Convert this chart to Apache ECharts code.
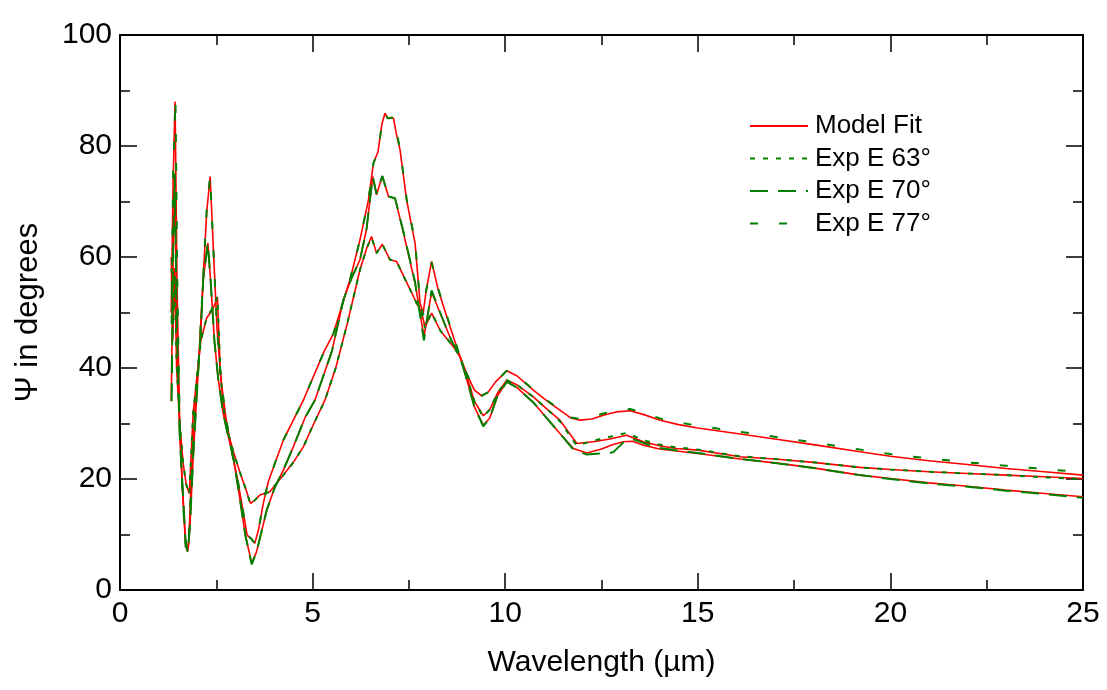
<!DOCTYPE html>
<html>
<head>
<meta charset="utf-8">
<title>Psi vs wavelength</title>
<script src="https://cdn.jsdelivr.net/npm/echarts@6/dist/echarts.min.js"></script>
<style>
  html, body { margin: 0; padding: 0; background: #fff; }
  #chart { width: 1107px; height: 690px; }
</style>
</head>
<body>
<div id="chart"></div>
<script>
// [wavelength (um), psi (deg)]
const fit77 = [[1.33,50],[1.38,74],[1.43,88],[1.48,55],[1.55,30],[1.62,18],[1.70,8.5],[1.74,7],[1.78,8],[1.85,20],[1.95,33],[2.05,42],[2.15,55],[2.25,68],[2.34,74.5],[2.42,62],[2.52,47],[2.62,38],[2.75,31],[2.90,25],[3.05,20],[3.20,14],[3.30,9.9],[3.40,9.3],[3.50,8.4],[3.60,11],[3.72,15.6],[3.85,19.5],[4.02,22.8],[4.24,27],[4.50,30.6],[4.76,34.2],[4.98,37.8],[5.30,43],[5.54,46.2],[5.75,51],[5.97,55.9],[6.23,63.1],[6.45,70.3],[6.58,76.9],[6.63,77.2],[6.70,79],[6.80,84],[6.88,85.9],[6.95,85],[7.01,85],[7.10,85],[7.18,82],[7.27,79.3],[7.44,70.3],[7.66,62.5],[7.79,51.7],[7.87,49.9],[7.95,54],[8.09,59.2],[8.26,54.1],[8.57,47.4],[8.83,42],[9.00,39],[9.20,36],[9.39,35],[9.55,35.6],[9.75,37.5],[10.04,39.5],[10.30,38.6],[10.73,36],[11.10,34],[11.42,32.4],[11.70,31],[11.94,30.6],[12.25,30.8],[12.55,31.5],[12.90,32.1],[13.24,32.3],[13.60,31.6],[14.02,30.6],[14.50,29.8],[15.00,29.2],[16.10,28.1],[17.00,27.2],[18.00,26.2],[19.21,24.9],[20.00,24.1],[21.00,23.3],[22.00,22.6],[23.00,21.9],[24.00,21.3],[25.00,20.7]];
const fit70 = [[1.33,34],[1.38,60],[1.42,75],[1.47,50],[1.55,28],[1.62,19],[1.70,9],[1.76,7],[1.82,12],[1.90,24],[2.00,36],[2.10,47],[2.16,55.9],[2.28,62.5],[2.36,55],[2.45,45],[2.55,38],[2.68,31.8],[2.80,28],[2.94,24],[3.10,17],[3.25,10],[3.42,4.8],[3.55,7],[3.81,14.4],[4.02,18.5],[4.24,21.6],[4.50,25.8],[4.80,31],[5.06,34.2],[5.24,37.8],[5.50,43],[5.80,52.3],[6.00,56],[6.23,59.5],[6.40,65],[6.56,74.5],[6.66,71.2],[6.81,74.6],[6.97,70.9],[7.14,70.6],[7.36,64.3],[7.66,55.3],[7.79,49.9],[7.89,45.6],[8.09,53.7],[8.31,49.9],[8.60,45],[8.83,42],[9.00,38],[9.20,33],[9.43,29.7],[9.60,31],[9.80,35],[10.04,37.5],[10.30,36.5],[10.73,33.8],[11.10,30.8],[11.42,28.2],[11.77,25.5],[12.12,24.7],[12.50,25.4],[12.80,26.2],[13.07,26.7],[13.30,26.8],[13.59,26.1],[14.00,25.4],[14.50,25.0],[15.00,24.6],[16.10,23.6],[17.00,22.9],[18.00,22.0],[19.21,20.7],[20.00,20.1],[21.00,19.3],[22.00,18.7],[23.00,18.0],[24.00,17.4],[25.00,16.8]];
const fit63 = [[1.33,60],[1.37,45],[1.42,58],[1.47,40],[1.55,30],[1.64,22.8],[1.72,19],[1.80,17.4],[1.90,31.9],[1.99,37.9],[2.10,45],[2.25,49],[2.40,50.5],[2.53,52.6],[2.60,40],[2.68,33],[2.80,28.5],[2.94,25],[3.10,21.5],[3.25,18.5],[3.39,15.6],[3.50,16.2],[3.63,17.1],[3.89,17.7],[4.24,20.7],[4.50,23],[4.76,25.8],[5.00,29.5],[5.32,34.2],[5.60,40],[5.90,48],[6.23,57.7],[6.40,61.5],[6.53,63.7],[6.66,60.7],[6.81,62.3],[7.01,59.5],[7.18,59.2],[7.40,56],[7.66,52.3],[7.83,49.9],[7.92,47.4],[8.09,49.9],[8.31,46.8],[8.66,43.8],[8.83,42],[9.00,38.5],[9.20,34],[9.43,31.4],[9.60,32.5],[9.80,35.5],[10.04,37.8],[10.30,37],[10.73,34.8],[11.10,32.5],[11.42,30.6],[11.86,26.4],[12.29,26.7],[12.72,27.2],[13.15,27.9],[13.59,26.7],[14.00,26.0],[14.45,25.5],[15.00,25.2],[16.10,24.0],[17.00,23.6],[18.00,23.0],[19.21,22.1],[20.00,21.7],[21.00,21.3],[22.00,21.0],[23.00,20.7],[24.00,20.4],[25.00,20.1]];

const exp77 = [[1.34,48],[1.38,75],[1.44,88.6],[1.49,54],[1.55,30],[1.62,18],[1.70,8],[1.74,6.8],[1.78,8],[1.85,20],[1.95,33],[2.05,42],[2.15,55],[2.25,68.5],[2.34,74.6],[2.42,62],[2.52,47],[2.62,38],[2.75,31],[2.90,25],[3.05,20],[3.20,14],[3.30,9.9],[3.40,9.3],[3.50,8.4],[3.60,11],[3.72,15.6],[3.85,19.5],[4.02,22.8],[4.24,27],[4.50,30.6],[4.76,34.2],[4.98,37.8],[5.30,43],[5.54,46.2],[5.75,51],[5.97,55.9],[6.23,63.1],[6.45,70.3],[6.58,76.9],[6.63,77.2],[6.70,79],[6.80,84],[6.88,85.9],[6.95,85],[7.01,85],[7.10,85.2],[7.18,82.5],[7.27,79.5],[7.44,70.5],[7.66,62.8],[7.79,52],[7.87,49.5],[7.95,54],[8.09,59],[8.26,54.3],[8.57,47.6],[8.83,42],[9.00,39],[9.20,36],[9.39,35],[9.55,35.6],[9.75,37.5],[10.04,39.5],[10.30,38.7],[10.73,36.1],[11.10,34.1],[11.42,32.5],[11.70,31.1],[11.94,30.8],[12.25,31.2],[12.55,31.8],[12.90,32.3],[13.24,32.6],[13.60,31.9],[14.02,30.9],[14.50,30.2],[15.00,29.6],[16.10,28.5],[17.00,27.6],[18.00,26.6],[19.21,25.3],[20.00,24.5],[21.00,23.7],[22.00,23.0],[23.00,22.4],[24.00,21.8],[25.00,21.2]];
const exp70 = [[1.34,34],[1.38,61],[1.42,75],[1.47,50],[1.55,28],[1.62,19],[1.70,9],[1.76,6.8],[1.82,12],[1.90,24],[2.00,36],[2.10,47],[2.16,56],[2.28,62.5],[2.36,55],[2.45,45],[2.55,38],[2.68,31.8],[2.80,28],[2.94,24],[3.10,17],[3.25,10],[3.42,4.6],[3.55,7],[3.81,14.4],[4.02,18.5],[4.24,21.6],[4.50,25.8],[4.80,31],[5.06,34.2],[5.24,37.8],[5.50,43],[5.80,52.3],[6.00,56],[6.23,59.5],[6.40,65],[6.56,74.5],[6.66,71.4],[6.81,74.6],[6.97,70.9],[7.14,70.6],[7.36,64.5],[7.66,55.5],[7.79,49.5],[7.89,45],[8.09,54],[8.31,50],[8.60,45],[8.83,42],[9.00,38],[9.20,33],[9.43,29.5],[9.60,31],[9.80,35],[10.04,37.5],[10.30,36.5],[10.73,33.8],[11.10,30.8],[11.42,28.2],[11.77,25.3],[12.12,24.4],[12.50,24.6],[12.80,24.8],[13.07,26.6],[13.30,27.2],[13.59,26.5],[14.00,25.6],[14.50,25.1],[15.00,24.7],[16.10,23.6],[17.00,22.9],[18.00,22.0],[19.21,20.7],[20.00,20.0],[21.00,19.2],[22.00,18.6],[23.00,17.9],[24.00,17.3],[25.00,16.6]];
const exp63 = [[1.34,58],[1.37,46],[1.42,57],[1.47,41],[1.55,30],[1.64,22.8],[1.72,19],[1.80,17.2],[1.90,31.9],[1.99,37.9],[2.10,45],[2.25,49],[2.40,50.8],[2.53,52.8],[2.60,40],[2.68,33],[2.80,28.5],[2.94,25],[3.10,21.5],[3.25,18.5],[3.39,15.4],[3.50,16.2],[3.63,17.1],[3.89,17.7],[4.24,20.7],[4.50,23],[4.76,25.8],[5.00,29.5],[5.32,34.2],[5.60,40],[5.90,48],[6.23,57.7],[6.40,61.5],[6.53,63.5],[6.66,60.7],[6.81,62.3],[7.01,59.5],[7.18,59.2],[7.40,56],[7.66,52.3],[7.83,49.5],[7.92,47.2],[8.09,50],[8.31,46.8],[8.66,43.8],[8.83,42],[9.00,38.5],[9.20,34],[9.43,31.2],[9.60,32.5],[9.80,35.5],[10.04,37.8],[10.30,37],[10.73,34.8],[11.10,32.5],[11.42,30.4],[11.86,26.0],[12.29,26.9],[12.72,27.6],[13.15,28.3],[13.59,27.0],[14.00,26.2],[14.45,25.7],[15.00,25.3],[16.10,24.1],[17.00,23.6],[18.00,23.0],[19.21,22.1],[20.00,21.7],[21.00,21.3],[22.00,21.0],[23.00,20.7],[24.00,20.3],[25.00,20.0]];

const legendNames = ['Model Fit', 'Exp E 63°', 'Exp E 70°', 'Exp E 77°']

const FONT = '"Liberation Sans", Arial, sans-serif'
const RED = '#ff0000'
const GREEN = '#008000'

const fitLine = (data) => ({
  name: 'Model Fit',
  type: 'line',
  data,
  symbol: 'none',
  lineStyle: { color: RED, width: 1.6 },
  itemStyle: { color: RED },
  z: 2
})

const expLine = (name, data, dash) => ({
  name,
  type: 'line',
  data,
  symbol: 'none',
  lineStyle: { color: GREEN, width: 2, type: dash },
  itemStyle: { color: GREEN },
  z: 3
})

const frameAxis = (extra) => Object.assign({
  type: 'value',
  axisLine: { show: true, onZero: false, lineStyle: { color: '#000', width: 2 } },
  axisTick: { show: true, inside: true, length: 17, lineStyle: { color: '#000', width: 1.5 } },
  minorTick: { show: true, splitNumber: 2, length: 10, lineStyle: { color: '#000', width: 1.5 } },
  splitLine: { show: false },
  axisLabel: { show: false }
}, extra)

const chart = echarts.init(document.getElementById('chart'), null, { renderer: 'canvas' })

chart.setOption({
  animation: false,
  backgroundColor: '#fff',
  textStyle: { fontFamily: FONT },
  grid: { left: 120, right: 24, top: 35, bottom: 100 },
  legend: {
    data: legendNames,
    orient: 'vertical',
    left: 744,
    top: 108,
    itemWidth: 58,
    itemHeight: 12,
    itemGap: 6.5,
    // hide the marker dot, keep the line sample
    itemStyle: { opacity: 0 },
    textStyle: { fontFamily: FONT, fontSize: 26, color: '#000', lineHeight: 26, padding: [0, 0, 0, 2] }
  },
  xAxis: [
    frameAxis({
      min: 0, max: 25, interval: 5,
      name: 'Wavelength (µm)',
      nameLocation: 'middle',
      nameGap: 58,
      nameTextStyle: { fontFamily: FONT, fontSize: 30, color: '#000' },
      axisLabel: { show: true, margin: 9, fontFamily: FONT, fontSize: 30, color: '#000' }
    }),
    frameAxis({ min: 0, max: 25, interval: 5, position: 'top' })
  ],
  yAxis: [
    frameAxis({
      min: 0, max: 100, interval: 20,
      name: 'Ψ in degrees',
      nameLocation: 'middle',
      nameGap: 76,
      nameTextStyle: { fontFamily: FONT, fontSize: 31, color: '#000' },
      axisLabel: { show: true, margin: 8, fontFamily: FONT, fontSize: 30, color: '#000' }
    }),
    frameAxis({ min: 0, max: 100, interval: 20, position: 'right' })
  ],
  series: [
    fitLine(fit77),
    fitLine(fit70),
    fitLine(fit63),
    expLine('Exp E 63°', exp63, [5, 8]),
    expLine('Exp E 70°', exp70, [18, 10]),
    expLine('Exp E 77°', exp77, [8, 21])
  ]
})
</script>
</body>
</html>
